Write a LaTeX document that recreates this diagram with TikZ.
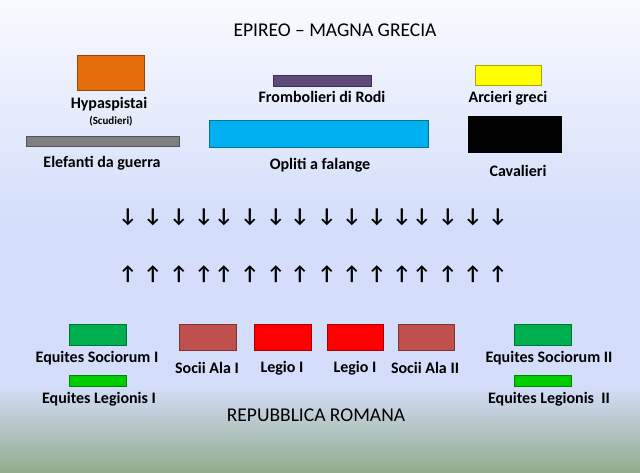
\documentclass[tikz,border=0pt]{standalone}
\usepackage{fontspec}
\setmainfont{Carlito}
\usetikzlibrary{positioning}
\definecolor{bgtop}{HTML}{F9FAFF}
\definecolor{bgmid}{HTML}{D4DEFA}
\definecolor{bgbot}{HTML}{94AB8E}
\definecolor{orangeU}{HTML}{E46C0A}
\definecolor{greyU}{HTML}{7F7F7F}
\definecolor{purpleU}{HTML}{604A7B}
\definecolor{blueU}{HTML}{00B0F0}
\definecolor{yellowU}{HTML}{FFFF00}
\definecolor{greenU}{HTML}{00B050}
\definecolor{lgreenU}{HTML}{00CC00}
\definecolor{sociiU}{HTML}{C0504D}
\definecolor{redU}{HTML}{FF0000}

\begin{document}
\begin{tikzpicture}[x=1pt,y=-1pt,
  unit/.style={draw=#1!65!black, fill=#1, line width=0.8pt, inner sep=0pt},
  lbl/.style={font=\bfseries\fontsize{16}{18}\selectfont, inner sep=0pt},
  ttl/.style={font=\fontsize{19.5}{21}\selectfont, inner sep=0pt},
  arr/.style={font=\bfseries\fontsize{20}{20}\selectfont, inner sep=0pt}]
\useasboundingbox (0,0) rectangle (640,472);
% background
\shade[top color=bgtop, bottom color=bgmid] (0,0) rectangle (640,222);
\fill[bgmid] (0,221) rectangle (640,386);
\shade[top color=bgmid, bottom color=bgbot] (0,385) rectangle (640,472);

% Epireo - Magna Grecia
\begin{scope}
  \node[ttl] (epi) at (335,30) {EPIREO -- MAGNA GRECIA};
  \node[unit=orangeU, minimum width=67pt, minimum height=35pt] (hyp) at (110.5,72.5) {};
  \node[lbl] (hypl) at (109,104) {Hypaspistai};
  \node[lbl, font=\bfseries\fontsize{11}{12}\selectfont] (scud) at (111,121) {(Scudieri)};
  \node[unit=greyU, minimum width=153pt, minimum height=10pt] (ele) at (102.5,141) {};
  \node[lbl] (elel) at (102,163) {Elefanti da guerra};
  \node[unit=purpleU, minimum width=98pt, minimum height=11pt] (fro) at (322,80.5) {};
  \node[lbl] (frol) at (322,97) {Frombolieri di Rodi};
  \node[unit=blueU, minimum width=219pt, minimum height=27pt] (opl) at (318.5,133.5) {};
  \node[lbl] (opll) at (320,165) {Opliti a falange};
  \node[unit=yellowU, minimum width=66pt, minimum height=20pt] (arc) at (508,75) {};
  \node[lbl] (arcl) at (508,98) {Arcieri greci};
  \node[unit=black, fill=black, minimum width=93pt, minimum height=36pt] (cav) at (514.5,134) {};
  \node[lbl] (cavl) at (518,171) {Cavalieri};
\end{scope}

% arrows
\foreach \x [count=\i] in {128,153,179,204,224,250,276,300,327,352,377,402,422,448,473,498} {
  \node[arr] (dn\i) at (\x,217) {↓};
  \node[arr] (up\i) at (\x,274) {↑};
}

% Repubblica Romana
\begin{scope}
  \node[unit=greenU, minimum width=57pt, minimum height=21pt] (eqs1) at (97.5,334.5) {};
  \node[lbl] (eqs1l) at (97,358) {Equites Sociorum I};
  \node[unit=lgreenU, minimum width=57pt, minimum height=11pt] (eql1) at (97.5,380.5) {};
  \node[lbl] (eql1l) at (99,399) {Equites Legionis I};
  \node[unit=sociiU, minimum width=57pt, minimum height=26pt] (soc1) at (207.5,337) {};
  \node[lbl] (soc1l) at (207,368) {Socii Ala I};
  \node[unit=redU, minimum width=57pt, minimum height=26pt] (leg1) at (282.5,337) {};
  \node[lbl] (leg1l) at (282,368) {Legio I};
  \node[unit=redU, minimum width=56pt, minimum height=26pt] (leg2) at (355,337) {};
  \node[lbl] (leg2l) at (355,368) {Legio I};
  \node[unit=sociiU, minimum width=56pt, minimum height=26pt] (soc2) at (426,337) {};
  \node[lbl] (soc2l) at (425,368) {Socii Ala II};
  \node[unit=greenU, minimum width=57pt, minimum height=21pt] (eqs2) at (542.5,334.5) {};
  \node[lbl] (eqs2l) at (549,358) {Equites Sociorum II};
  \node[unit=lgreenU, minimum width=57pt, minimum height=11pt] (eql2) at (542.5,380.5) {};
  \node[lbl] (eql2l) at (549,399) {Equites Legionis~~II};
  \node[ttl] (rom) at (316,415) {REPUBBLICA ROMANA};
\end{scope}
\end{tikzpicture}
\end{document}
